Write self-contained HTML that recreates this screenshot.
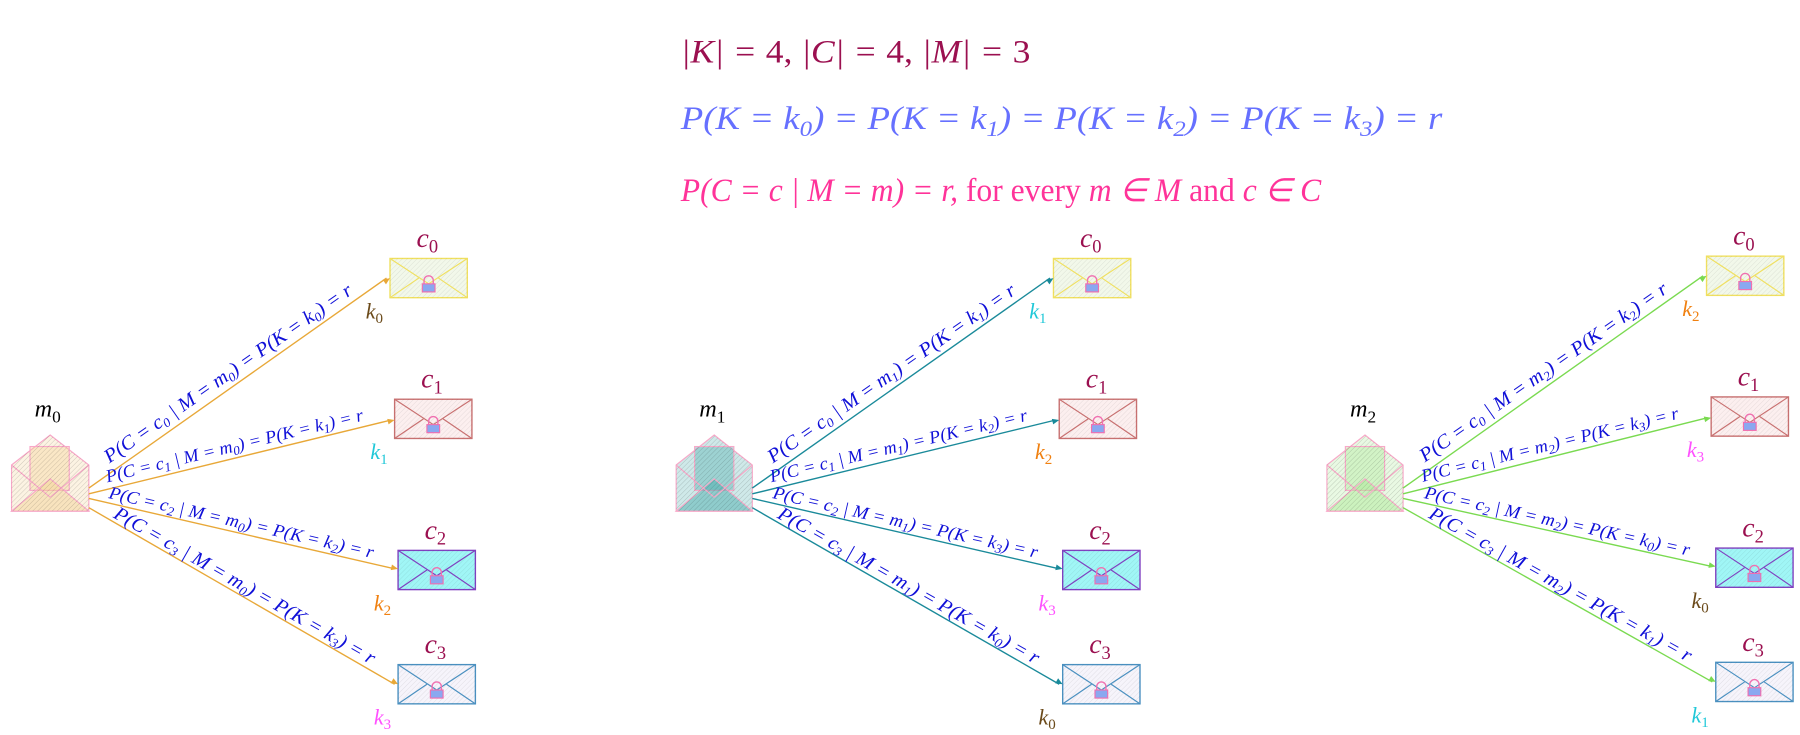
<!DOCTYPE html>
<html><head><meta charset="utf-8">
<style>
html,body{margin:0;padding:0;background:#fff;}
svg{display:block;}
text{font-family:"Liberation Serif",serif;font-style:italic;}
.rm{font-style:normal;}
</style></head>
<body>
<svg id="s" width="1800" height="735" viewBox="0 0 1560 637" xmlns="http://www.w3.org/2000/svg">
<defs>
<pattern id="h" width="3" height="3" patternUnits="userSpaceOnUse" patternTransform="rotate(45)">
<line x1="0" y1="0" x2="0" y2="3" stroke="#000" stroke-width="0.6" stroke-opacity="0.25"/>
</pattern>
</defs>
<text x="590" y="54" font-size="28" fill="#9b1050" textLength="303" lengthAdjust="spacingAndGlyphs">|K| = <tspan class="rm">4,</tspan> |C| = <tspan class="rm">4,</tspan> |M| = <tspan class="rm">3</tspan></text>
<text x="590" y="112" font-size="28" fill="#6670ff" textLength="660" lengthAdjust="spacingAndGlyphs">P(K = k<tspan font-size="19" dy="6">0</tspan><tspan dy="-6">) = P(K = k</tspan><tspan font-size="19" dy="6">1</tspan><tspan dy="-6">) = P(K = k</tspan><tspan font-size="19" dy="6">2</tspan><tspan dy="-6">) = P(K = k</tspan><tspan font-size="19" dy="6">3</tspan><tspan dy="-6">) = r</tspan></text>
<text x="590" y="174" font-size="28" fill="#ff3399" textLength="555" lengthAdjust="spacingAndGlyphs">P(C = c | M = m) = r, <tspan class="rm">for every</tspan> m ∈ M <tspan class="rm">and</tspan> c ∈ C</text>
<g id="g"></g>
</svg>
<script>
var g=document.getElementById('g'),o='';
var groups=[
 {ox:0,col:'#e8a838',m:0,env:[10,403,67,40],fill:'#f5d090',ks:[0,1,2,3]},
 {ox:576,col:'#1a8a9a',m:1,env:[586,403,66,40],fill:'#40a8a8',ks:[1,2,3,0]},
 {ox:1142,col:'#7ada50',m:2,env:[1150,403,66,40],fill:'#a8e890',ks:[2,3,0,1]}
];
var kcol=['#6b4a1a','#20c8d8','#f08010','#ff50ff'];
var cb=[['#f0e060','#f2f8ea'],['#c87070','#fcefef'],['#8040c0','#a0f6f6'],['#4a90c0','#f6f4fb']];
var cpos=[[338,224,241],[342,346,364],[345,477,493],[345,576,593]];
var lens=[258,229,235,258], fss=[17,15.5,15.5,17];
function sub(s){return '<tspan font-size="11" dy="3">'+s+'</tspan><tspan dy="-3">';}
groups.forEach(function(G,gi){
 var ex=G.env[0],ey=G.env[1],w=G.env[2],h=G.env[3];
 var pts=ex+','+ey+' '+(ex+w/2)+','+(ey-26)+' '+(ex+w)+','+ey+' '+(ex+w)+','+(ey+h)+' '+ex+','+(ey+h);
 o+='<text x="'+(ex+20)+'" y="'+(ey-42)+'" font-size="21" fill="#000">m<tspan font-size="15" dy="5" class="rm">'+G.m+'</tspan></text>';
 o+='<polygon points="'+pts+'" fill="'+G.fill+'" fill-opacity="0.25" stroke="#f8a8c8" stroke-width="1"/>';
 o+='<rect x="'+(ex+16)+'" y="'+(ey-16)+'" width="34" height="38" fill="'+G.fill+'" fill-opacity="0.35" stroke="#f8a8c8"/>';
 o+='<polygon points="'+ex+','+(ey+h)+' '+(ex+w/2)+','+(ey+12)+' '+(ex+w)+','+(ey+h)+'" fill="'+G.fill+'" fill-opacity="0.45" stroke="#f8a8c8"/>';
 o+='<line x1="'+ex+'" y1="'+ey+'" x2="'+(ex+w/2)+'" y2="'+(ey+28)+'" stroke="#f8a8c8"/><line x1="'+(ex+w)+'" y1="'+ey+'" x2="'+(ex+w/2)+'" y2="'+(ey+28)+'" stroke="#f8a8c8"/>';
 o+='<polygon points="'+pts+'" fill="url(#h)"/>';
 var sx=ex+w, sy=[423,428,432,440];
 for(var i=0;i<4;i++){
  var cx=cpos[i][0], cy=cpos[i][1]-(gi==2?2:0), ty=cpos[i][2]-(gi==2?2:0);
  if(gi==1){cx=[913,918,921,921][i];}
  if(gi==2){cx=[1479,1483,1487,1487][i];}
  o+='<rect x="'+cx+'" y="'+cy+'" width="67" height="34" fill="'+cb[i][1]+'" stroke="'+cb[i][0]+'" stroke-width="1.2"/>';
  o+='<rect x="'+cx+'" y="'+cy+'" width="67" height="34" fill="url(#h)" opacity="0.5"/>';
  o+='<polyline points="'+cx+','+cy+' '+(cx+33.5)+','+(cy+22)+' '+(cx+67)+','+cy+'" fill="none" stroke="'+cb[i][0]+'"/>';
  o+='<line x1="'+cx+'" y1="'+(cy+34)+'" x2="'+(cx+25)+'" y2="'+(cy+17)+'" stroke="'+cb[i][0]+'"/><line x1="'+(cx+67)+'" y1="'+(cy+34)+'" x2="'+(cx+42)+'" y2="'+(cy+17)+'" stroke="'+cb[i][0]+'"/>';
  o+='<path d="M'+(cx+29.5)+','+(cy+22)+' v-3 a4,4 0 0 1 8,0 v3" fill="none" stroke="#f070b0" stroke-width="1.2"/>';
  o+='<rect x="'+(cx+28)+'" y="'+(cy+22)+'" width="11" height="7" fill="#8aa8f0" stroke="#f070b0"/>';
  o+='<text x="'+(cx+23)+'" y="'+(cy-10)+'" font-size="24" fill="#9b1050">c<tspan font-size="16" dy="5" class="rm">'+i+'</tspan></text>';
  var k=G.ks[i];
  o+='<text x="'+(cx-21)+'" y="'+(cy+52)+'" font-size="19" fill="'+kcol[k]+'">k<tspan font-size="13" dy="4" class="rm">'+k+'</tspan></text>';
  var x1=sx,y1=sy[i],x2=cx,y2=ty;
  var ang=Math.atan2(y2-y1,x2-x1)*180/Math.PI;
  o+='<line x1="'+x1+'" y1="'+y1+'" x2="'+(x2-3)+'" y2="'+y2+'" stroke="'+G.col+'" stroke-width="1.2"/>';
  o+='<polygon points="0,0 -6,-2.5 -6,2.5" fill="'+G.col+'" transform="translate('+x2+','+y2+') rotate('+ang+')"/>';
  var mx=(x1+x2)/2-4,my=(y1+y2)/2;
  o+='<text text-anchor="middle" font-size="'+fss[i]+'" fill="#1010d8" transform="translate('+mx+','+my+') rotate('+ang+')" y="-5" textLength="'+lens[i]+'" lengthAdjust="spacingAndGlyphs">P(C = c'+sub(i)+' | M = m</tspan>'+sub(G.m)+') = P(K = k</tspan>'+sub(k)+') = r</tspan></text>';
 }
});
g.innerHTML=o;
</script>
</body></html>
